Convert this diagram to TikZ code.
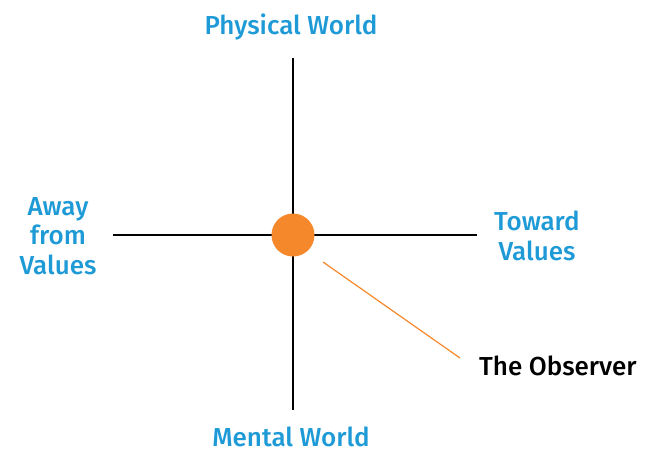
\documentclass[tikz,border=0pt]{standalone}
\usepackage{fontspec}
\setmainfont{Fira Sans Medium}
\definecolor{axisblue}{HTML}{1E9AD6}
\definecolor{dotorange}{HTML}{F5882A}
\begin{document}
\begin{tikzpicture}[x=1pt,y=-1pt,
  axis/.style={draw=black,line width=1.3pt},
  pole/.style={text=axisblue,font=\fontsize{26}{29.5}\selectfont,align=center,inner sep=0pt},
  pointer/.style={draw=dotorange,line width=1.2pt}]
  \useasboundingbox (0,0) rectangle (654,453);
  % axes
  \coordinate (top) at (293,58);
  \coordinate (bottom) at (293,410);
  \coordinate (left) at (113,235);
  \coordinate (right) at (477,235);
  \draw[axis] (top) -- (bottom);
  \draw[axis] (left) -- (right);
  % observer dot
  \node[circle,fill=dotorange,minimum size=43pt,inner sep=0pt] (dot) at (293,235) {};
  % pole labels
  \node[pole,anchor=base] (phys) at (291,34) {Physical World};
  \node[pole,anchor=base,text depth=0pt] (ment) at (291,446) {Mental World};
  \node[pole,anchor=center] (away) at (58,236) {Away\\from\\Values};
  \node[pole,anchor=center] (toward) at (537,236) {Toward\\Values};
  % observer label
  \node[anchor=base west,inner sep=0pt,font=\fontsize{26}{26}\selectfont] (obs) at (479,375) {The Observer};
  \coordinate (p1) at (323,262);
  \coordinate (p2) at (460,358);
  \draw[pointer] (p1) -- (p2);
\end{tikzpicture}
\end{document}
